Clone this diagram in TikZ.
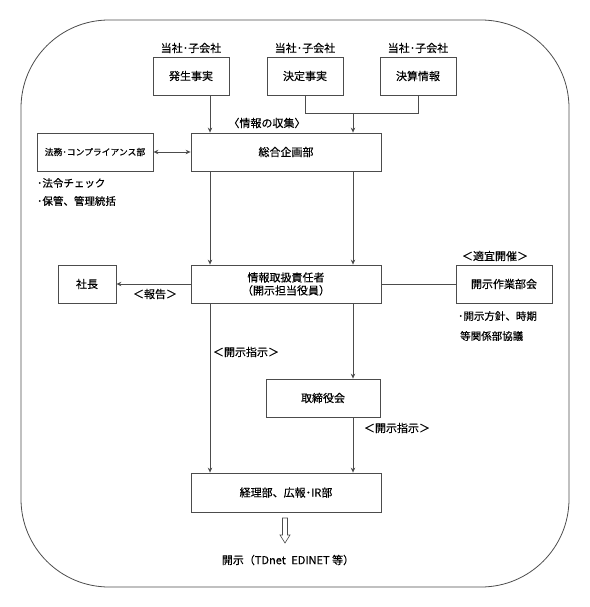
\documentclass[tikz,border=0pt]{standalone}
\usepackage{fontspec}
\setmainfont{Noto Sans CJK JP}[FakeBold=0.4]
\usetikzlibrary{arrows.meta}
\begin{document}
\begin{tikzpicture}[x=1pt,y=-1pt,
  line/.style={draw=black!70, line width=0.8pt},
  arr/.style={line, -{Stealth[length=5pt,width=4.5pt]}},
  dblarr/.style={line, {Stealth[length=5pt,width=4.5pt]}-{Stealth[length=5pt,width=4.5pt]}},
  box/.style={draw=black!70, line width=0.8pt, font=\fontsize{11}{13}\selectfont, align=center, inner sep=0pt, minimum height=38pt},
  lbl/.style={font=\fontsize{11}{13}\selectfont, inner sep=0pt},
  note/.style={font=\fontsize{10.5}{13}\selectfont, inner sep=0pt, anchor=west}]
\useasboundingbox (0,0) rectangle (589,607);
\draw[line, rounded corners=88pt] (21,20) rectangle (569,587);

% top sources
\node[box, minimum width=76pt] (hassei) at (191,76) {発生事実};
\node[box, minimum width=76pt] (kettei) at (305,76) {決定事実};
\node[box, minimum width=76pt] (kessan) at (418,76) {決算情報};
\node[lbl] (t1) at (191,48) {当社･子会社};
\node[lbl] (t2) at (305,48) {当社･子会社};
\node[lbl] (t3) at (418,48) {当社･子会社};

% main column
\node[box, minimum width=190pt] (sougou) at (286,152) {総合企画部};
\node[box, minimum width=116pt, font=\fontsize{8.8}{11}\selectfont] (houmu) at (95,152) {法務･コンプライアンス部};
\node[box, minimum width=190pt] (jouhou) at (286,284) {情報取扱責任者\\（開示担当役員）};
\node[box, minimum width=58pt] (shachou) at (87,284) {社長};
\node[box, minimum width=96pt] (sagyou) at (504,284) {開示作業部会};
\node[box, minimum width=114pt] (torishimari) at (323,398) {取締役会};
\node[box, minimum width=190pt, minimum height=39pt] (keiri) at (286,492.5) {経理部、広報･IR部};

% helper coordinates
\coordinate (xl) at (210,0);
\coordinate (jct) at (353,113);

% connectors
\draw[arr] (hassei.south -| xl) -- (sougou.north -| xl);
\draw[line] (kettei.south) -- (kettei.south |- jct) -- (kessan.south |- jct) -- (kessan.south);
\draw[arr] (jct) -- (sougou.north -| jct);
\draw[dblarr] (houmu.east) -- (sougou.west);
\draw[arr] (sougou.south -| xl) -- (jouhou.north -| xl);
\draw[arr] (sougou.south -| jct) -- (jouhou.north -| jct);
\draw[arr] (jouhou.west) -- (shachou.east);
\draw[line] (jouhou.east) -- (sagyou.west);
\draw[arr] (jouhou.south -| xl) -- (keiri.north -| xl);
\draw[arr] (jouhou.south -| jct) -- (torishimari.north -| jct);
\draw[arr] (torishimari.south -| jct) -- (keiri.north -| jct);

% labels
\node[lbl] (l1) at (267,123) {〈情報の収集〉};
\node[note] (n1) at (37,183) {･法令チェック};
\node[note] (n2) at (37,201) {･保管、管理統括};
\node[lbl] (l2) at (155,294) {＜報告＞};
\node[lbl] (l3) at (495,256) {＜適宜開催＞};
\node[note] (n3) at (458,316) {･開示方針、時期};
\node[note] (n4) at (460,336) {等関係部協議};
\node[lbl] (l4) at (246,352) {＜開示指示＞};
\node[lbl] (l5) at (397,428) {＜開示指示＞};

% hollow arrow and output
\node[lbl] (out) at (288,560) {開示（TDnet\enspace EDINET 等）};
\draw[line, line width=0.6pt, fill=white] (282.5,518) -- (287.5,518) -- (287.5,535) -- (290,535) -- (285,543) -- (280,535) -- (282.5,535) -- cycle;
\end{tikzpicture}
\end{document}
